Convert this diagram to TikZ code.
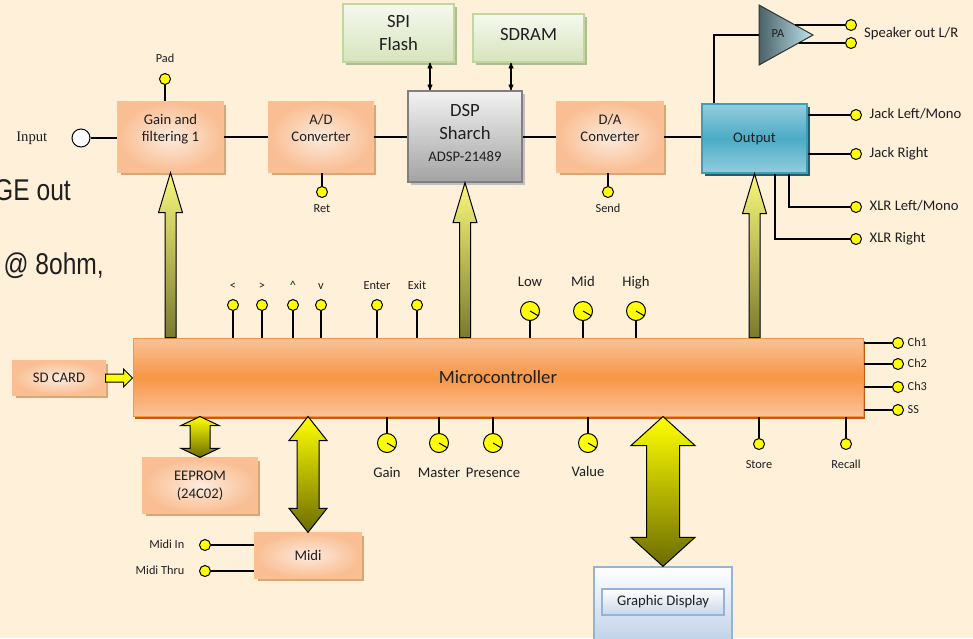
\documentclass[tikz,border=0pt]{standalone}
\usepackage{fontspec}
\setmainfont{Carlito}
\newfontfamily\inputfont{Liberation Serif}
\newfontfamily\narrowfont[FakeStretch=0.82]{Liberation Sans}
\usetikzlibrary{positioning, arrows, calc, shadows}

\newcommand\fnorm{\fontsize{14.67pt}{17.6pt}\selectfont}
\newcommand\fbig{\fontsize{18.67pt}{22.4pt}\selectfont}
\newcommand\fsmall{\fontsize{12.3pt}{14.4pt}\selectfont}

\definecolor{bgcream}{HTML}{FEF0D9}
\definecolor{boxedge}{HTML}{FAC090}
\definecolor{boxin}{HTML}{FDEBDD}
\definecolor{boxout}{HTML}{F9BE93}
\definecolor{boxshade}{HTML}{D9A678}
\definecolor{microlt}{HTML}{FAC29A}
\definecolor{microdk}{HTML}{F79646}
\definecolor{microshade}{HTML}{C55A11}
\definecolor{dsptop}{HTML}{F2F2F2}
\definecolor{dspbot}{HTML}{A3A3A3}
\definecolor{greenedge}{HTML}{C3D69B}
\definecolor{greentop}{HTML}{F5F9EE}
\definecolor{greenbot}{HTML}{D7E4BD}
\definecolor{outlt}{HTML}{93CDDD}
\definecolor{outdk}{HTML}{4BACC6}
\definecolor{outedge}{HTML}{3E9DB8}
\definecolor{outshade}{HTML}{215E6E}
\definecolor{padark}{HTML}{4A6167}
\definecolor{palight}{HTML}{BFE3EE}
\definecolor{dispedge}{HTML}{95B3D7}
\definecolor{dispbot}{HTML}{B9CDE5}
\definecolor{knobyellow}{HTML}{FFFF00}
\definecolor{uptop}{HTML}{F8F87C}
\definecolor{upbot}{HTML}{7A7A2E}
\definecolor{dbltop}{HTML}{FFFF00}
\definecolor{dblbot}{HTML}{6B6B00}

\tikzset{
	>=stealth',
	every node/.style={font=\fnorm, text=black!88},
	wire/.style={line width=1.1pt, black},
	orangebox/.style={draw=boxedge, line width=1.3pt, inner color=boxin, outer color=boxout,
		drop shadow={shadow xshift=2.5pt, shadow yshift=-2.5pt, fill=boxshade, opacity=1},
		align=center, inner sep=0pt},
	greenbox/.style={draw=greenedge, line width=1.3pt, top color=greentop, bottom color=greenbot,
		drop shadow={shadow xshift=2.5pt, shadow yshift=-2.5pt, fill=greenedge!70!gray, opacity=1},
		align=center, inner sep=0pt, font=\fbig},
	button/.style={circle, draw, line width=1pt, fill=knobyellow, minimum size=11pt, inner sep=0pt},
	knob/.style={button, minimum size=19pt},
	lblsmall/.style={font=\fsmall, inner sep=0pt, text height=8pt, text depth=2pt},
	lblnorm/.style={font=\fnorm, inner sep=0pt, text height=10pt, text depth=3pt},
	uparrow/.style={draw=black, line width=1pt, top color=uptop, bottom color=upbot},
	busarrow/.style={draw=black, line width=1pt, top color=dbltop, bottom color=dblbot},
	bigtext/.style={font=\narrowfont\fontsize{30pt}{34pt}\selectfont, inner sep=0pt}
}

% block arrow from the microcontroller up to a box
\newcommand{\liftarrow}[2]{%
	\shade[uparrow] let \p1=(#1), \p2=(#2) in
		(\x1-5.5pt,\y1) -- (\x1-5.5pt,\y2-40pt) -- (\x1-12pt,\y2-40pt) -- (\x2,\y2)
		-- (\x1+12pt,\y2-40pt) -- (\x1+5.5pt,\y2-40pt) -- (\x1+5.5pt,\y1) -- cycle;}
% double block arrow: top, bottom, shaft half width, head half width, head length
\newcommand{\busarrow}[5]{%
	\shade[busarrow] let \p1=(#1), \p2=(#2) in
		(\x1,\y1) -- (\x1+#4,\y1-#5) -- (\x1+#3,\y1-#5) -- (\x1+#3,\y2+#5)
		-- (\x1+#4,\y2+#5) -- (\x1,\y2) -- (\x1-#4,\y2+#5) -- (\x1-#3,\y2+#5)
		-- (\x1-#3,\y1-#5) -- (\x1-#4,\y1-#5) -- cycle;}

\begin{document}
\begin{tikzpicture}[x=1pt, y=-1pt]
		\fill[bgcream] (0,0) rectangle (973,638);
		\useasboundingbox (0,0) rectangle (973,638);
		
		%text cut at the left edge
		\node[bigtext, anchor=base east] (geout) at (71,200) {GE out};
		\node[bigtext, anchor=base east] (ohm) at (104,274) {@ 8ohm,};
		
		%signal chain
		\node[circle, draw, line width=1pt, fill=white, minimum size=18pt, inner sep=0pt,
			label={[font=\inputfont\fnorm, inner sep=0pt, label distance=24pt]left:Input}] (input) at (81,138) {};
		\node[orangebox, minimum width=105pt, minimum height=70pt, text depth=18pt] (gain) at (170.5,137) {Gain and\\filtering 1};
		\node[orangebox, minimum width=104pt, minimum height=70pt, text depth=18pt] (adc) at (321,137) {A/D\\Converter};
		\node[draw=black!50, line width=1.3pt, top color=dsptop, bottom color=dspbot,
			drop shadow={shadow xshift=2.5pt, shadow yshift=-2.5pt, fill=black!25, opacity=1},
			align=center, inner sep=0pt, font=\fbig, text depth=7pt,
			minimum width=114pt, minimum height=91pt] (dsp) at (465,136.5) {DSP\\Sharch\\{\fnorm ADSP-21489}};
		\node[greenbox, minimum width=111pt, minimum height=58pt] (spi) at (398.5,33) {SPI\\Flash};
		\node[greenbox, minimum width=111pt, minimum height=48pt, text depth=8pt] (sdram) at (528.5,38) {SDRAM};
		\node[orangebox, minimum width=106pt, minimum height=70pt, text depth=18pt] (dac) at (610,137) {D/A\\Converter};
		\node[draw=outedge, line width=1.3pt, top color=outlt, bottom color=outlt, middle color=outdk,
			drop shadow={shadow xshift=2.5pt, shadow yshift=-2.5pt, fill=outshade, opacity=1},
			inner sep=0pt, minimum width=105pt, minimum height=69pt] (output) at (754.5,138.5) {Output};
		
		%power amplifier
		\shade[left color=padark, right color=palight, draw=black!80, line width=1pt]
			(759,5) -- (813,35) -- (759,65) -- cycle;
		\node[lblsmall] (pa) at (778,34) {PA};
		\coordinate (pain) at (759,35);
		\coordinate (paup) at (795,25);
		\coordinate (padown) at (799,43);
		
		%jacks
		\node[button] (spkl) at (851,25) {};
		\node[button] (spkr) at (851,43) {};
		\node[lblnorm, anchor=west] (spktxt) at (864,34) {Speaker out L/R};
		\node[button, label={[lblnorm,label distance=7.5pt]right:Jack Left/Mono}] (jackl) at (856,115) {};
		\node[button, label={[lblnorm,label distance=7.5pt]right:Jack Right}] (jackr) at (856,154) {};
		\node[button, label={[lblnorm,label distance=7.5pt]right:XLR Left/Mono}] (xlrl) at (856,207) {};
		\node[button, label={[lblnorm,label distance=7.5pt]right:XLR Right}] (xlrr) at (856,239) {};
		
		\node[button, label={[lblsmall,label distance=8.5pt]above:Pad}] (pad) at (165,79) {};
		\node[button, label={[lblsmall,label distance=6.5pt]below:Ret}] (ret) at (322,192) {};
		\node[button, label={[lblsmall,label distance=6.5pt]below:Send}] (send) at (608,192) {};
		
		\draw[wire] (input) -- (gain.west |- input);
		\draw[wire] (pad) -- (pad |- gain.north);
		\draw[wire] (ret) -- (ret |- adc.south);
		\draw[wire] (send) -- (send |- dac.south);
		\draw[wire] (gain.east) -- (adc.west);
		\draw[wire] (adc.east) -- (dsp.west |- adc.east);
		\draw[wire] (dsp.east |- dac.west) -- (dac.west);
		\draw[wire] (dac.east) -- (output.west |- dac.east);
		\draw[wire, <->] ([xshift=31.5pt]spi.south) -- ([xshift=31.5pt]spi.south |- dsp.north);
		\draw[wire, <->] ([xshift=-17.5pt]sdram.south) -- ([xshift=-17.5pt]sdram.south |- dsp.north);
		\draw[wire] ([xshift=-40.5pt]output.north) |- (pain);
		\draw[wire] (paup) -- (spkl);
		\draw[wire] (padown) -- (spkr);
		\draw[wire] (jackl) -- (jackl -| output.east);
		\draw[wire] (jackr) -- (jackr -| output.east);
		\draw[wire] (xlrl) -| ([xshift=34.5pt]output.south);
		\draw[wire] (xlrr) -| ([xshift=20.5pt]output.south);
		
		%control
		\node[draw=microdk, line width=1pt, top color=microlt, bottom color=microlt, middle color=microdk,
			drop shadow={shadow xshift=2pt, shadow yshift=-3pt, fill=microshade, opacity=1},
			font=\fbig, inner sep=0pt, minimum width=730pt, minimum height=78pt] (micro) at (498,377) {Microcontroller};
		\node[orangebox, minimum width=92pt, minimum height=34pt] (sdcard) at (59,378) {SD CARD};
		\node[orangebox, minimum width=114pt, minimum height=55pt] (eeprom) at (200,485.5) {EEPROM\\(24C02)};
		\node[orangebox, minimum width=106pt, minimum height=45pt] (midi) at (308,555.5) {Midi};
		\node[draw=dispedge, line width=1.3pt, top color=white, bottom color=dispbot,
			minimum width=138pt, minimum height=82pt] (display) at (663,608) {};
		\node[draw=dispedge, line width=1.5pt, top color=white, bottom color=dispbot!80,
			inner sep=0pt, minimum width=122pt, minimum height=26pt] (displayin) at (663,602) {Graphic Display};
		
		\node[button, label={[lblsmall,label distance=7.5pt]above:<}] (btnlt) at (233,305) {};
		\node[button, label={[lblsmall,label distance=7.5pt]above:>}] (btngt) at (262,305) {};
		\node[button, label={[lblsmall,label distance=7.5pt]above:\textasciicircum}] (btnup) at (293,305) {};
		\node[button, label={[lblsmall,label distance=7.5pt]above:v}] (btndn) at (321,305) {};
		\node[button, label={[lblsmall,label distance=7.5pt]above:Enter}] (enter) at (377,305) {};
		\node[button, label={[lblsmall,label distance=7.5pt]above:Exit}] (exit) at (417,305) {};
		\node[knob, label={[lblnorm,label distance=11pt]above:Low}] (low) at (530,311) {};
		\node[knob, label={[lblnorm,label distance=11pt]above:Mid}] (mid) at (583,311) {};
		\node[knob, label={[lblnorm,label distance=11pt]above:High}] (high) at (636,311) {};
		
		\node[knob, label={[lblnorm,label distance=14pt]below:Gain}] (kgain) at (387,443) {};
		\node[knob, label={[lblnorm,label distance=14pt]below:Master}] (master) at (439,443) {};
		\node[knob, label={[lblnorm,label distance=14pt]below:Presence}] (presence) at (493,443) {};
		\node[knob, label={[lblnorm,label distance=13pt]below:Value}] (value) at (588,443) {};
		\node[button, label={[lblsmall,label distance=10.5pt]below:Store}] (store) at (759,444) {};
		\node[button, label={[lblsmall,label distance=10.5pt]below:Recall}] (recall) at (846,444) {};
		
		\node[button, label={[lblsmall,label distance=3.5pt]right:Ch1}] (ch1) at (898,343) {};
		\node[button, label={[lblsmall,label distance=3.5pt]right:Ch2}] (ch2) at (898,364) {};
		\node[button, label={[lblsmall,label distance=3.5pt]right:Ch3}] (ch3) at (898,387) {};
		\node[button, label={[lblsmall,label distance=3.5pt]right:SS}] (ss) at (898,410) {};
		\node[button, label={[lblsmall,label distance=14.5pt]left:Midi In}] (midiin) at (205,545) {};
		\node[button, label={[lblsmall,label distance=14.5pt]left:Midi Thru}] (midithru) at (205,571) {};
		
		\foreach \k in {low,mid,high,kgain,master,presence,value}
			\draw[line width=1pt] (\k.center) -- (\k.-30);
		\foreach \b in {btnlt,btngt,btnup,btndn,enter,exit,low,mid,high}
			\draw[wire] (\b) -- (\b |- micro.north);
		\foreach \b in {kgain,master,presence,value,store,recall}
			\draw[wire] (\b) -- (\b |- micro.south);
		\foreach \b in {ch1,ch2,ch3,ss}
			\draw[wire] (\b) -- (\b -| micro.east);
		\foreach \b in {midiin,midithru}
			\draw[wire] (\b) -- (\b -| midi.west);
		
		%buses
		\liftarrow{gain.south |- micro.north}{gain.south}
		\liftarrow{dsp.south |- micro.north}{dsp.south}
		\liftarrow{output.south |- micro.north}{output.south}
		\busarrow{eeprom.north |- micro.south}{eeprom.north}{10pt}{19pt}{9pt}
		\busarrow{midi.north |- micro.south}{midi.north}{11pt}{19pt}{24pt}
		\busarrow{display.north |- micro.south}{display.north}{16.5pt}{32pt}{29pt}
		\path[draw=black, line width=1pt, fill=knobyellow] let \p1=(sdcard.east), \p2=(sdcard.east -| micro.west) in
			(\x1,\y1+4pt) -- (\x2-9pt,\y1+4pt) -- (\x2-9pt,\y1+9pt) -- (\x2,\y1)
			-- (\x2-9pt,\y1-9pt) -- (\x2-9pt,\y1-4pt) -- (\x1,\y1-4pt) -- cycle;
	\end{tikzpicture}
\end{document}
